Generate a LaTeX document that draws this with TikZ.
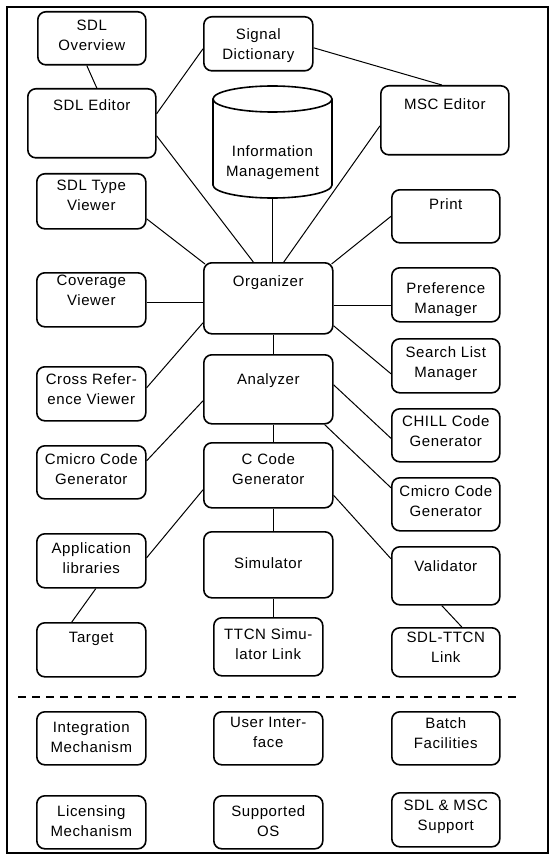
\documentclass[tikz,border=0pt]{standalone}
\usepackage{fontspec}
\setmainfont{Liberation Sans}[LetterSpace=4]
\usepackage{tikz}

\tikzset{
  blk/.style={draw, line width=1.6pt, rounded corners=8pt, inner sep=0pt, anchor=north west},
  lbl/.style={anchor=north, align=center, inner sep=0pt, font=\fontsize{15}{20}\selectfont},
  wire/.style={line width=1pt},
}

\begin{document}
\begin{tikzpicture}[x=1pt, y=-1pt]
  \useasboundingbox (0,0) rectangle (556,861);

  %% Outer frame
  \draw[line width=1.6pt] (7,7) rectangle (548,853);

  %% Tool boxes (corner at top left), text hung from the top edge
  \node[blk, minimum width=108pt, minimum height=53pt] (ov) at (37,11) {};
  \node[lbl] (ov-t) at ([yshift=-9pt]ov.north) {SDL\\Overview};
  \node[blk, minimum width=109pt, minimum height=54pt] (sig) at (203,16) {};
  \node[lbl] (sig-t) at ([yshift=-12pt]sig.north) {Signal\\Dictionary};
  \node[blk, minimum width=128pt, minimum height=69pt] (ed) at (27,88) {};
  \node[lbl] (ed-t) at ([yshift=-11pt]ed.north) {SDL Editor};
  \node[blk, minimum width=128pt, minimum height=69pt] (msc) at (380,85) {};
  \node[lbl] (msc-t) at ([yshift=-13pt]msc.north) {MSC Editor};
  \node[blk, minimum width=109pt, minimum height=55pt] (tv) at (36,173) {};
  \node[lbl] (tv-t) at ([yshift=-7pt]tv.north) {SDL Type\\Viewer};
  \node[blk, minimum width=108pt, minimum height=53pt] (prn) at (391,189) {};
  \node[lbl] (prn-t) at ([yshift=-9pt]prn.north) {Print};
  \node[blk, minimum width=129pt, minimum height=71pt] (org) at (203,262) {};
  \node[lbl] (org-t) at ([yshift=-13pt]org.north) {Organizer};
  \node[blk, minimum width=109pt, minimum height=54pt] (cov) at (36,272) {};
  \node[lbl] (cov-t) at ([yshift=-3pt]cov.north) {Coverage\\Viewer};
  \node[blk, minimum width=108pt, minimum height=54pt] (pref) at (391,267) {};
  \node[lbl] (pref-t) at ([yshift=-15pt]pref.north) {Preference\\Manager};
  \node[blk, minimum width=108pt, minimum height=54pt] (srch) at (391,338) {};
  \node[lbl] (srch-t) at ([yshift=-8pt]srch.north) {Search List\\Manager};
  \node[blk, minimum width=109pt, minimum height=54pt] (xref) at (36,366) {};
  \node[lbl] (xref-t) at ([yshift=-7pt]xref.north) {Cross Refer-\\ence Viewer};
  \node[blk, minimum width=129pt, minimum height=69pt] (ana) at (203,354) {};
  \node[lbl] (ana-t) at ([yshift=-19pt]ana.north) {Analyzer};
  \node[blk, minimum width=108pt, minimum height=53pt] (chill) at (391,408) {};
  \node[lbl] (chill-t) at ([yshift=-7pt]chill.north) {CHILL Code\\Generator};
  \node[blk, minimum width=109pt, minimum height=53pt] (cml) at (36,445) {};
  \node[lbl] (cml-t) at ([yshift=-8pt]cml.north) {Cmicro Code\\Generator};
  \node[blk, minimum width=129pt, minimum height=65pt] (cc) at (203,442) {};
  \node[lbl] (cc-t) at ([yshift=-11pt]cc.north) {C Code\\Generator};
  \node[blk, minimum width=108pt, minimum height=53pt] (cmr) at (391,477) {};
  \node[lbl] (cmr-t) at ([yshift=-8pt]cmr.north) {Cmicro Code\\Generator};
  \node[blk, minimum width=109pt, minimum height=54pt] (app) at (36,533) {};
  \node[lbl] (app-t) at ([yshift=-9pt]app.north) {Application\\libraries};
  \node[blk, minimum width=129pt, minimum height=66pt] (sim) at (203,531) {};
  \node[lbl] (sim-t) at ([yshift=-26pt]sim.north) {Simulator};
  \node[blk, minimum width=108pt, minimum height=58pt] (val) at (391,546) {};
  \node[lbl] (val-t) at ([yshift=-14pt]val.north) {Validator};
  \node[blk, minimum width=109pt, minimum height=54pt] (tgt) at (36,622) {};
  \node[lbl] (tgt-t) at ([yshift=-10pt]tgt.north) {Target};
  \node[blk, minimum width=109pt, minimum height=58pt] (ttcn) at (213,617) {};
  \node[lbl] (ttcn-t) at ([yshift=-11pt]ttcn.north) {TTCN Simu-\\lator Link};
  \node[blk, minimum width=108pt, minimum height=49pt] (stl) at (391,627) {};
  \node[lbl] (stl-t) at ([yshift=-5pt]stl.north) {SDL-TTCN\\Link};

  %% Common facilities below the separator
  \node[blk, minimum width=109pt, minimum height=53pt] (integ) at (36,711) {};
  \node[lbl] (integ-t) at ([yshift=-10pt]integ.north) {Integration\\Mechanism};
  \node[blk, minimum width=109pt, minimum height=53pt] (ui) at (213,711) {};
  \node[lbl] (ui-t) at ([yshift=-6pt]ui.north) {User Inter-\\face};
  \node[blk, minimum width=108pt, minimum height=53pt] (batch) at (391,711) {};
  \node[lbl] (batch-t) at ([yshift=-6pt]batch.north) {Batch\\Facilities};
  \node[blk, minimum width=109pt, minimum height=53pt] (lic) at (36,795) {};
  \node[lbl] (lic-t) at ([yshift=-10pt]lic.north) {Licensing\\Mechanism};
  \node[blk, minimum width=109pt, minimum height=53pt] (os) at (213,795) {};
  \node[lbl] (os-t) at ([yshift=-10pt]os.north) {Supported\\OS};
  \node[blk, minimum width=108pt, minimum height=54pt] (supp) at (391,792) {};
  \node[lbl] (supp-t) at ([yshift=-8pt]supp.north) {SDL \& MSC\\Support};

  %% Information management drum
  \draw[line width=1.6pt] (213,99) -- (213,185)
    arc[start angle=180, end angle=0, x radius=59.5, y radius=13] -- (332,99);
  \draw[line width=1.6pt] (272.5,99) ellipse [x radius=59.5, y radius=13];
  \node[lbl] (info) at (272.5,145) {Information\\Management};
  \coordinate (infobase) at (272,198);

  %% Connections
  \draw[wire] ([xshift=-5pt]ov.south) -- ([xshift=5pt]ed.north);
  \draw[wire] ([yshift=9.5pt]ed.east) -- ([yshift=-5pt]sig.west);
  \draw[wire] ([yshift=-4pt]sig.east) -- ([xshift=-3pt]msc.north);
  \draw[wire] ([yshift=-12.5pt]ed.east) -- ([xshift=-15pt]org.north);
  \draw[wire] ([yshift=-17.5pt]tv.east) -- ([shift={(2pt,-2pt)}]org.north west);
  \draw[wire] ([yshift=-3pt]cov.east) -- ([yshift=-4.5pt]org.west);
  \draw[wire] ([yshift=6pt]xref.east) -- ([yshift=-24.5pt]org.west);
  \draw[wire] (infobase) -- (infobase |- org.north);
  \draw[wire] ([yshift=-5.5pt]msc.west) -- ([xshift=15.5pt]org.north);
  \draw[wire] (prn.west) -- ([shift={(-2pt,-2pt)}]org.north east);
  \draw[wire] ([yshift=-7.5pt]org.east) -- ([yshift=-11pt]pref.west);
  \draw[wire] ([yshift=-27.5pt]org.east) -- ([yshift=-8pt]srch.west);
  \draw[wire] ([xshift=5pt]org.south) -- ([xshift=5pt]ana.north);
  \draw[wire] ([yshift=11.5pt]cml.east) -- ([yshift=-11.5pt]ana.west);
  \draw[wire] ([yshift=4.5pt]ana.east) -- ([yshift=-3pt]chill.west);
  \draw[wire] ([xshift=-9pt]ana.south east) -- ([yshift=16.5pt]cmr.west);
  \draw[wire] ([xshift=5pt]ana.south) -- ([xshift=5pt]cc.north);
  \draw[wire] ([yshift=3pt]app.east) -- ([yshift=-14.5pt]cc.west);
  \draw[wire] ([yshift=-20pt]cc.east) -- ([yshift=17pt]val.west);
  \draw[wire] ([xshift=5pt]cc.south) -- ([xshift=5pt]sim.north);
  \draw[wire] ([xshift=5pt]sim.south) -- ([xshift=5pt]ttcn.north);
  \draw[wire] ([xshift=4.5pt]app.south) -- ([xshift=-19.5pt]tgt.north);
  \draw[wire] ([xshift=-4pt]val.south) -- ([xshift=16pt]stl.north);

  %% Separator
  \draw[line width=2pt, dash pattern=on 8pt off 6pt] (18,697) -- (520,697);
\end{tikzpicture}
\end{document}
